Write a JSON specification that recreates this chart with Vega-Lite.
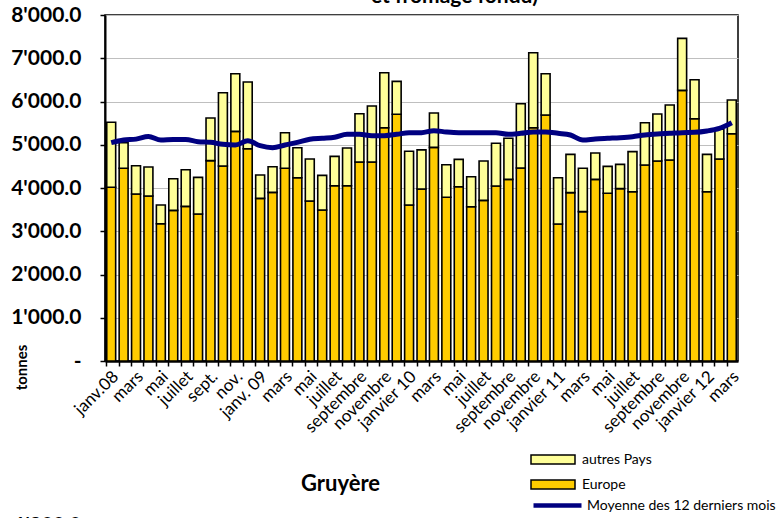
{
  "$schema": "https://vega.github.io/schema/vega-lite/v6.json",
  "autosize": "none",
  "width": 633,
  "height": 346,
  "padding": {"left": 105, "top": 15, "right": 44, "bottom": 157},
  "background": "white",
  "title": {"text": "et fromage fondu)", "font": "Lato", "fontSize": 21, "fontWeight": "bold", "color": "black", "anchor": "middle", "frame": "group", "dx": 33, "offset": -20, "baseline": "alphabetic"},
  "data": {"values": [
    {"i": 1, "mois": "2008-01", "Europe": 4016, "autres Pays": 1503, "Moyenne": 5050},
    {"i": 2, "mois": "2008-02", "Europe": 4455, "autres Pays": 593, "Moyenne": 5110},
    {"i": 3, "mois": "2008-03", "Europe": 3861, "autres Pays": 655, "Moyenne": 5130},
    {"i": 4, "mois": "2008-04", "Europe": 3815, "autres Pays": 670, "Moyenne": 5190},
    {"i": 5, "mois": "2008-05", "Europe": 3175, "autres Pays": 432, "Moyenne": 5110},
    {"i": 6, "mois": "2008-06", "Europe": 3483, "autres Pays": 732, "Moyenne": 5120},
    {"i": 7, "mois": "2008-07", "Europe": 3576, "autres Pays": 847, "Moyenne": 5120},
    {"i": 8, "mois": "2008-08", "Europe": 3399, "autres Pays": 847, "Moyenne": 5070},
    {"i": 9, "mois": "2008-09", "Europe": 4632, "autres Pays": 986, "Moyenne": 5056},
    {"i": 10, "mois": "2008-10", "Europe": 4508, "autres Pays": 1696, "Moyenne": 5010},
    {"i": 11, "mois": "2008-11", "Europe": 5310, "autres Pays": 1333, "Moyenne": 4994},
    {"i": 12, "mois": "2008-12", "Europe": 4909, "autres Pays": 1541, "Moyenne": 5094},
    {"i": 13, "mois": "2009-01", "Europe": 3761, "autres Pays": 539, "Moyenne": 4978},
    {"i": 14, "mois": "2009-02", "Europe": 3900, "autres Pays": 593, "Moyenne": 4932},
    {"i": 15, "mois": "2009-03", "Europe": 4455, "autres Pays": 824, "Moyenne": 4994},
    {"i": 16, "mois": "2009-04", "Europe": 4238, "autres Pays": 694, "Moyenne": 5056},
    {"i": 17, "mois": "2009-05", "Europe": 3699, "autres Pays": 971, "Moyenne": 5126},
    {"i": 18, "mois": "2009-06", "Europe": 3491, "autres Pays": 802, "Moyenne": 5149},
    {"i": 19, "mois": "2009-07", "Europe": 4053, "autres Pays": 679, "Moyenne": 5172},
    {"i": 20, "mois": "2009-08", "Europe": 4053, "autres Pays": 872, "Moyenne": 5241},
    {"i": 21, "mois": "2009-09", "Europe": 4601, "autres Pays": 1117, "Moyenne": 5241},
    {"i": 22, "mois": "2009-10", "Europe": 4601, "autres Pays": 1295, "Moyenne": 5210},
    {"i": 23, "mois": "2009-11", "Europe": 5394, "autres Pays": 1272, "Moyenne": 5210},
    {"i": 24, "mois": "2009-12", "Europe": 5704, "autres Pays": 762, "Moyenne": 5241},
    {"i": 25, "mois": "2010-01", "Europe": 3607, "autres Pays": 1241, "Moyenne": 5279},
    {"i": 26, "mois": "2010-02", "Europe": 3978, "autres Pays": 904, "Moyenne": 5279},
    {"i": 27, "mois": "2010-03", "Europe": 4940, "autres Pays": 794, "Moyenne": 5326},
    {"i": 28, "mois": "2010-04", "Europe": 3785, "autres Pays": 754, "Moyenne": 5295},
    {"i": 29, "mois": "2010-05", "Europe": 4030, "autres Pays": 633, "Moyenne": 5279},
    {"i": 30, "mois": "2010-06", "Europe": 3568, "autres Pays": 693, "Moyenne": 5279},
    {"i": 31, "mois": "2010-07", "Europe": 3715, "autres Pays": 909, "Moyenne": 5279},
    {"i": 32, "mois": "2010-08", "Europe": 4046, "autres Pays": 987, "Moyenne": 5279},
    {"i": 33, "mois": "2010-09", "Europe": 4200, "autres Pays": 949, "Moyenne": 5241},
    {"i": 34, "mois": "2010-10", "Europe": 4462, "autres Pays": 1487, "Moyenne": 5264},
    {"i": 35, "mois": "2010-11", "Europe": 5394, "autres Pays": 1734, "Moyenne": 5295},
    {"i": 36, "mois": "2010-12", "Europe": 5688, "autres Pays": 955, "Moyenne": 5295},
    {"i": 37, "mois": "2011-01", "Europe": 3167, "autres Pays": 1071, "Moyenne": 5264},
    {"i": 38, "mois": "2011-02", "Europe": 3892, "autres Pays": 886, "Moyenne": 5225},
    {"i": 39, "mois": "2011-03", "Europe": 3453, "autres Pays": 1002, "Moyenne": 5110},
    {"i": 40, "mois": "2011-04", "Europe": 4200, "autres Pays": 609, "Moyenne": 5133},
    {"i": 41, "mois": "2011-05", "Europe": 3877, "autres Pays": 624, "Moyenne": 5149},
    {"i": 42, "mois": "2011-06", "Europe": 3985, "autres Pays": 562, "Moyenne": 5164},
    {"i": 43, "mois": "2011-07", "Europe": 3915, "autres Pays": 925, "Moyenne": 5187},
    {"i": 44, "mois": "2011-08", "Europe": 4532, "autres Pays": 978, "Moyenne": 5226},
    {"i": 45, "mois": "2011-09", "Europe": 4624, "autres Pays": 1087, "Moyenne": 5249},
    {"i": 46, "mois": "2011-10", "Europe": 4647, "autres Pays": 1272, "Moyenne": 5264},
    {"i": 47, "mois": "2011-11", "Europe": 6258, "autres Pays": 1202, "Moyenne": 5280},
    {"i": 48, "mois": "2011-12", "Europe": 5602, "autres Pays": 902, "Moyenne": 5287},
    {"i": 49, "mois": "2012-01", "Europe": 3915, "autres Pays": 863, "Moyenne": 5318},
    {"i": 50, "mois": "2012-02", "Europe": 4670, "autres Pays": 690, "Moyenne": 5380},
    {"i": 51, "mois": "2012-03", "Europe": 5255, "autres Pays": 779, "Moyenne": 5510}
  ]},
  "encoding": {
    "x": {
      "field": "i", "type": "ordinal",
      "scale": {"paddingInner": 0.28, "paddingOuter": 0.14},
      "axis": {
        "title": "Gruyère", "titleX": 235, "titleY": 122, "titleFont": "Lato", "titleFontSize": 22, "titleFontWeight": "bold", "titleColor": "black", "titleBaseline": "middle", "titleAlign": "center",
        "labelAngle": -45, "labelAlign": "right", "labelBaseline": "top", "labelFont": "Lato", "labelFontSize": 17, "labelColor": "black", "labelPadding": 2, "labelOverlap": false, "labelBound": false,
        "bandPosition": 0, "labelOffset": -1,
        "labelExpr": "['janv.08','','mars','','mai','','juillet','','sept.','','nov.','','janv. 09','','mars','','mai','','juillet','','septembre','','novembre','','janvier 10','','mars','','mai','','juillet','','septembre','','novembre','','janvier 11','','mars','','mai','','juillet','','septembre','','novembre','','janvier 12','','mars'][datum.value - 1]",
        "domainColor": "black", "domainWidth": 2.5, "tickColor": "black", "tickWidth": 1.5, "tickSize": 5, "grid": false
      }
    }
  },
  "layer": [
    {
      "transform": [{"fold": ["Europe", "autres Pays"], "as": ["serie", "valeur"]}],
      "mark": {"type": "bar", "stroke": "black", "strokeWidth": 1.6},
      "encoding": {
        "y": {
          "field": "valeur", "type": "quantitative", "stack": "zero",
          "scale": {"domain": [0, 8000], "nice": false},
          "axis": {
            "title": "tonnes", "titleX": -84, "titleY": 352, "titleAngle": -90, "titleFont": "Lato", "titleFontSize": 15, "titleFontWeight": "bold", "titleColor": "black", "titleAlign": "center", "titleBaseline": "middle",
            "values": [0, 1000, 2000, 3000, 4000, 5000, 6000, 7000, 8000],
            "labelExpr": "datum.value == 0 ? '-\u00a0\u00a0\u00a0' : replace(format(datum.value, ',.1f'), ',', \"'\")",
            "labelFont": "Lato", "labelFontSize": 21, "labelFontWeight": "bold", "labelColor": "black", "labelPadding": 19,
            "domainColor": "black", "domainWidth": 2, "tickColor": "black", "tickSize": 5, "tickWidth": 1.5,
            "gridColor": "#BFBFBF", "gridWidth": 1
          }
        },
        "fill": {
          "field": "serie", "type": "nominal",
          "scale": {"domain": ["autres Pays", "Europe"], "range": ["#FFFF99", "#FFCC00"]},
          "legend": {
            "orient": "none", "legendX": 425, "legendY": 432, "title": null, "padding": 0,
            "symbolType": "M-1,-0.2H1V0.2H-1Z", "symbolSize": 1936, "symbolStrokeColor": "black", "symbolStrokeWidth": 1.5,
            "clipHeight": 25, "rowPadding": 0,
            "labelFont": "Lato", "labelFontSize": 14, "labelColor": "black", "labelOffset": 6
          }
        },
        "order": {"field": "serie", "sort": "ascending"}
      }
    },
    {
      "mark": {"type": "line", "strokeWidth": 5, "interpolate": "monotone"},
      "encoding": {
        "y": {"field": "Moyenne", "type": "quantitative"},
        "stroke": {
          "datum": "Moyenne des 12 derniers mois", "type": "nominal",
          "scale": {"range": ["#000080"]},
          "legend": {
            "orient": "none", "legendX": -91, "legendY": 478, "padding": 0,
            "title": ["", "1'800.0"], "titleOrient": "left", "titleAlign": "left", "titleBaseline": "top", "titleLineHeight": 20,
            "titleFont": "Lato", "titleFontSize": 20, "titleFontWeight": "bold", "titleColor": "black", "titlePadding": 450, "titleLimit": 200,
            "symbolType": "stroke", "symbolSize": 2304, "symbolStrokeWidth": 4.5, "symbolStrokeColor": "#000080",
            "clipHeight": 25,
            "labelFont": "Lato", "labelFontSize": 14, "labelColor": "black", "labelOffset": 3, "labelLimit": 300
          }
        }
      }
    }
  ],
  "resolve": {"scale": {"fill": "independent", "stroke": "independent"}},
  "config": {
    "view": {"stroke": "black", "strokeWidth": 1.5},
    "font": "Lato"
  }
}
